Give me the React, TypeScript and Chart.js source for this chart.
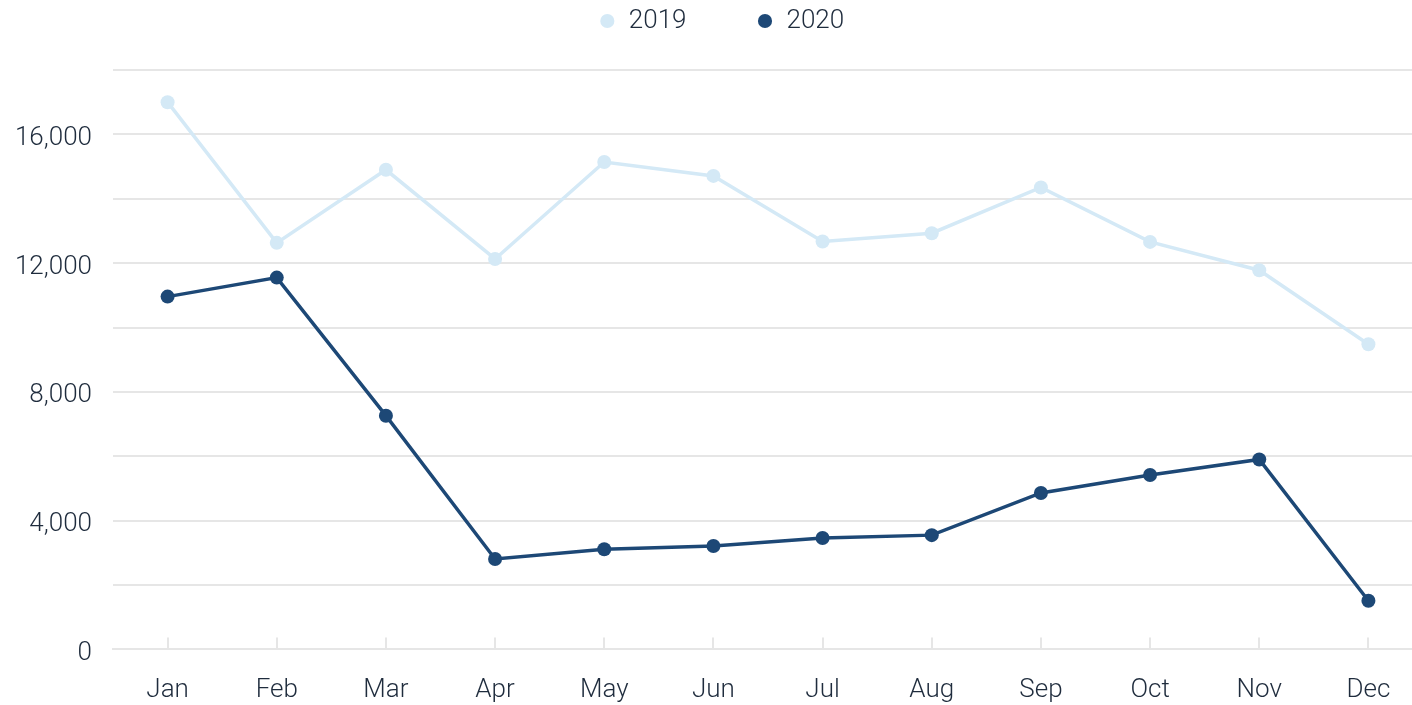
import React, { useEffect, useRef } from "react";
import { Chart, registerables } from "chart.js";

Chart.register(...registerables);

const months = ["Jan", "Feb", "Mar", "Apr", "May", "Jun", "Jul", "Aug", "Sep", "Oct", "Nov", "Dec"];
const series2019 = [17000, 12630, 14900, 12130, 15140, 14710, 12670, 12930, 14350, 12660, 11780, 9480];
const series2020 = [10960, 11550, 7260, 2810, 3110, 3210, 3460, 3550, 4860, 5420, 5900, 1510];
const yMax = 18000;
const yStep = 2000;
const yLabelEvery = 4000;

const color2019 = "#d4e9f6";
const color2020 = "#1d4876";
const textColor = "#1f2c3d";
const gridColor = "#e6e6e6";
const fontFamily = "Roboto";

const CANVAS_W = 1443;
const CANVAS_H = 767;
const TOP_SHIFT = 62;

export default function App() {
  const ref = useRef<HTMLCanvasElement | null>(null);

  useEffect(() => {
    document.documentElement.style.overflow = "hidden";
    document.body.style.overflow = "hidden";
    const canvas = ref.current;
    if (!canvas) return;
    const legendHeight = {
      id: "legendHeight",
      beforeInit(chart: any) {
        const fit = chart.legend.fit;
        chart.legend.fit = function () {
          fit.bind(chart.legend)();
          this.height = 132;
        };
      },
    };
    const font = { family: fontFamily, size: 26, weight: "300" as any };
    const chart = new Chart(canvas, {
      type: "line",
      data: {
        labels: months,
        datasets: [
          {
            label: "2019",
            data: series2019,
            borderColor: color2019,
            backgroundColor: color2019,
            pointBackgroundColor: color2019,
            pointBorderColor: color2019,
            borderWidth: 3.5,
            pointRadius: 7,
            pointBorderWidth: 0,
            pointStyle: "circle",
            tension: 0,
          },
          {
            label: "2020",
            data: series2020,
            borderColor: color2020,
            backgroundColor: color2020,
            pointBackgroundColor: color2020,
            pointBorderColor: color2020,
            borderWidth: 3.5,
            pointRadius: 7,
            pointBorderWidth: 0,
            pointStyle: "circle",
            tension: 0,
          },
        ],
      },
      options: {
        responsive: false,
        animation: false,
        devicePixelRatio: 1,
        layout: { padding: 0 },
        plugins: {
          legend: {
            position: "top",
            align: "center",
            labels: {
              usePointStyle: true,
              boxWidth: 17,
              boxHeight: 10,
              padding: 70,
              color: textColor,
              font,
            },
          },
          tooltip: { enabled: false },
        },
        scales: {
          x: {
            offset: true,
            grid: {
              drawOnChartArea: false,
              drawTicks: true,
              tickLength: -12,
              color: gridColor,
              lineWidth: 2,
            },
            border: { display: true, color: gridColor, width: 2 },
            ticks: { color: textColor, font, padding: 37 },
            afterFit: (s: any) => {
              s.height = 55.6;
            },
          },
          y: {
            min: 0,
            max: yMax,
            grid: { color: gridColor, lineWidth: 2, drawTicks: false },
            border: { display: false },
            ticks: {
              stepSize: yStep,
              color: textColor,
              font,
              padding: 21,
              labelOffset: 4,
              callback: (v: any) => (Number(v) % yLabelEvery === 0 && Number(v) < yMax ? Number(v).toLocaleString("en-US") : ""),
            },
            afterFit: (s: any) => {
              s.width = 113;
            },
          },
          yRight: {
            position: "right",
            display: true,
            grid: { display: false },
            border: { display: false },
            ticks: { display: false },
            afterFit: (s: any) => {
              s.width = 20;
            },
          },
        },
      },
      plugins: [legendHeight],
    });
    return () => chart.destroy();
  }, []);

  return (
    <div style={{ position: "fixed", left: 0, top: 0, width: 1412, height: 705, overflow: "hidden", background: "#fff" }}>
      <canvas
        ref={ref}
        width={CANVAS_W}
        height={CANVAS_H}
        style={{ position: "absolute", left: 0, top: -TOP_SHIFT, width: CANVAS_W, height: CANVAS_H }}
      />
    </div>
  );
}
